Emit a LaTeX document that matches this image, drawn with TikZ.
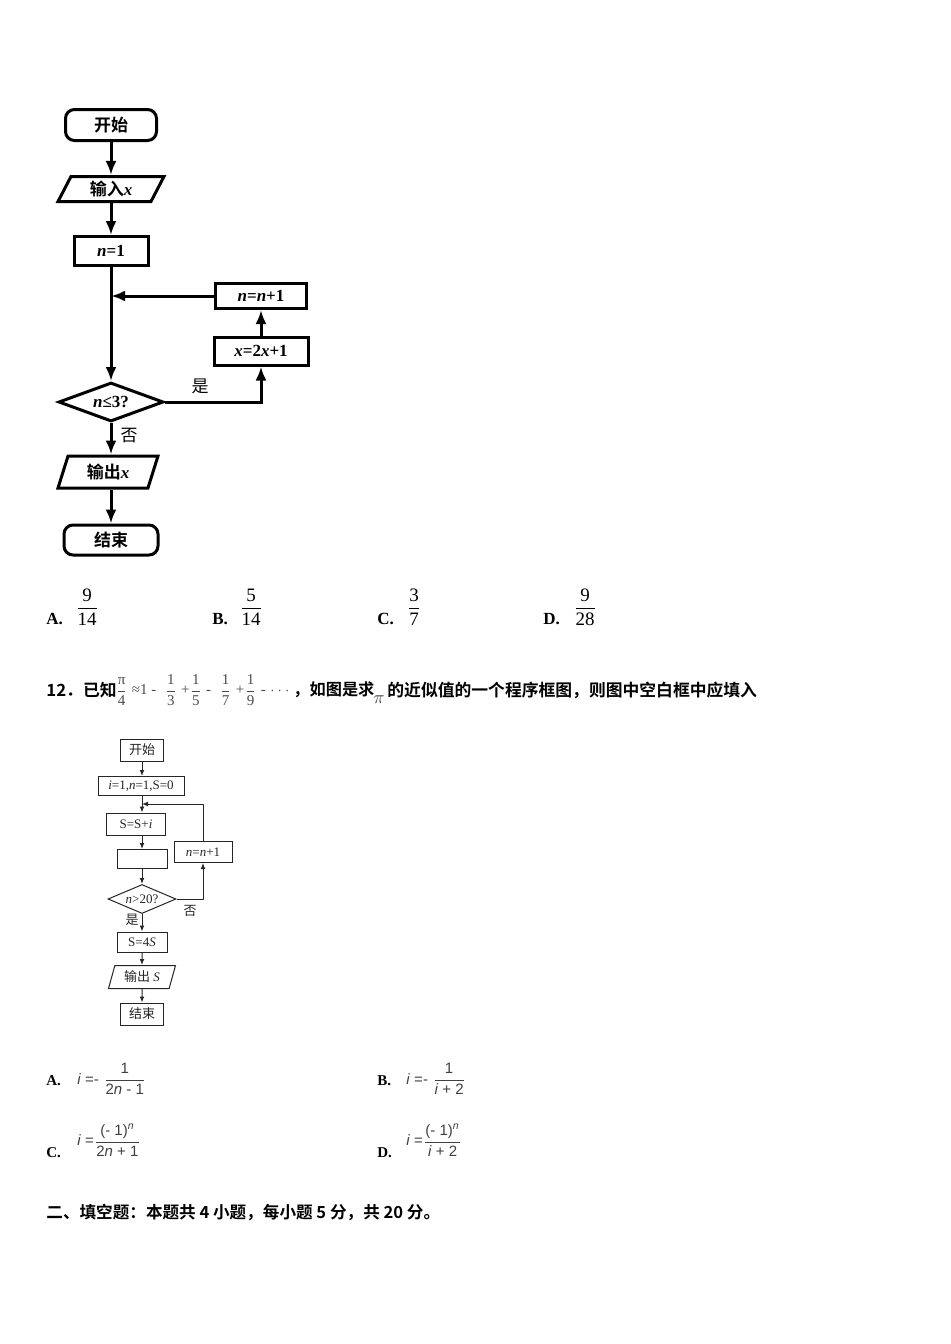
\documentclass[tikz,border=0pt]{standalone}
\usepackage{fontspec}
\setmainfont{Liberation Serif}
\setsansfont{Liberation Sans}
\newfontfamily\cjk{Noto Sans CJK SC}[BoldFont={Noto Sans CJK SC Bold}]
\usetikzlibrary{shapes.geometric,arrows.meta}
\newcommand\zh[1]{{\cjk #1}}
\newcommand\fr[2]{$\displaystyle\frac{\mbox{#1}}{\mbox{#2}}$}
\tikzset{
  big/.style={draw,line width=1.5pt,inner sep=0pt,font=\bfseries\fontsize{8.5}{10}\selectfont},
  bigbox/.style={big,rectangle},
  bigend/.style={big,rounded corners=4.5pt},
  bigflow/.style={line width=1.5pt,-{Latex[length=7pt,width=5.5pt]}},
  small/.style={draw=black!85,line width=0.5pt,inner sep=0pt,text=black!85,font=\fontsize{6.5}{8}\selectfont},
  smallflow/.style={draw=black!85,line width=0.5pt,-{Latex[length=3pt,width=2.4pt]}},
  optlabel/.style={anchor=west,inner sep=0pt,font=\bfseries\fontsize{8.5}{10}\selectfont},
  optfrac/.style={inner sep=0pt,font=\fontsize{9.5}{11}\selectfont},
  qtext/.style={anchor=west,inner sep=0pt,font=\bfseries\fontsize{8.4}{10}\selectfont},
  qmath/.style={anchor=west,inner sep=0pt,text=black!70,font=\fontsize{7.5}{9}\selectfont},
  ansmath/.style={anchor=west,inner sep=0pt,text=black!75,font=\sffamily\fontsize{7.5}{9}\selectfont}
}
\begin{document}
\begin{tikzpicture}[x=0.5pt,y=-0.5pt]
  \useasboundingbox[fill=white] (0,0) rectangle (950,1344);
  % first flowchart
  \path
    (111,125) node[bigend,minimum width=45.5pt,minimum height=15.5pt] (s1) {\zh{开始}}
    (111,189) node[big,trapezium,trapezium stretches body,trapezium left angle=51,trapezium right angle=129,minimum width=53pt,minimum height=12.5pt] (i1) {\zh{输入}\textit{x}}
    (111,251) node[bigbox,minimum width=37pt,minimum height=14.5pt] (n1) {\textit{n}=1}
    (261,296) node[bigbox,minimum width=45.5pt,minimum height=12.5pt] (p1) {\textit{n}=\textit{n}+1}
    (261,351) node[bigbox,minimum width=47pt,minimum height=14pt] (u1) {\textit{x}=2\textit{x}+1}
    (111,402) node[big,diamond,aspect=2.7,minimum width=52.5pt,minimum height=19.5pt] (d1) {\textit{n}≤3?}
    (108,472) node[big,trapezium,trapezium stretches body,trapezium left angle=58,trapezium right angle=122,minimum width=50pt,minimum height=16pt] (o1) {\zh{输出}\textit{x}}
    (111,540) node[bigend,minimum width=47pt,minimum height=15pt] (e1) {\zh{结束}}
    (200,386) node[font=\fontsize{8.5}{10}\selectfont] (yes1) {\zh{是}}
    (129,436) node[font=\fontsize{8.5}{10}\selectfont] (no1) {\zh{否}};
  \coordinate (j1) at (111,296);
  \begin{scope}[bigflow]
    \draw (s1) to (i1);
    \draw (i1) to (n1);
    \draw (n1) to (d1);
    \draw (p1) to (j1);
    \draw (u1) to (p1);
    \draw (d1.east) -| (u1.south);
    \draw (d1.south) to (d1.south |- o1.north);
    \draw (e1.north |- o1.south) to (e1.north);
  \end{scope}
  % answers of question 11
  \path
    (46,619) node[optlabel] (la) {A.}
    (87,607) node[optfrac] (fa) {\fr{9}{14}}
    (212,619) node[optlabel] (lb) {B.}
    (251,607) node[optfrac] (fb) {\fr{5}{14}}
    (377,619) node[optlabel] (lc) {C.}
    (414,607) node[optfrac] (fc) {\fr{3}{7}}
    (543,619) node[optlabel] (ld) {D.}
    (585,607) node[optfrac] (fd) {\fr{9}{28}};
  % question 12
  \path
    (46,690) node[qtext] (q0) {\zh{12．已知}}
    (115,690) node[qmath] (q1) {\fr{π}{4}\;≈1 -\;\;\fr{1}{3}\;+\fr{1}{5}\;-\;\;\fr{1}{7}\;+\fr{1}{9}\;-\;$\cdots$}
    (293,690) node[qtext,font=\bfseries\fontsize{8.1}{10}\selectfont] (q2) {\zh{，如图是求}}
    (379,700) node[inner sep=0pt,text=black!70,font=\fontsize{9.5}{11}\selectfont] (q3) {$\pi$}
    (387,690) node[qtext] (q4) {\zh{的近似值的一个程序框图，则图中空白框中应填入}};
  % second flowchart
  \path
    (142,750) node[small,minimum width=21.5pt,minimum height=11pt] (s2) {\zh{开始}}
    (141,786) node[small,minimum width=43pt,minimum height=9.5pt] (i2) {\textit{i}=1,\textit{n}=1,S=0}
    (136,824) node[small,minimum width=29.5pt,minimum height=11pt] (a2) {S=S+\textit{i}}
    (142,859) node[small,minimum width=25pt,minimum height=9.5pt] (b2) {}
    (203,852) node[small,minimum width=29pt,minimum height=10.5pt] (p2) {\textit{n}=\textit{n}+1}
    (142,899) node[small,diamond,aspect=2.3,minimum width=34pt,minimum height=14.5pt] (d2) {\textit{n}>20?}
    (142,942) node[small,minimum width=25pt,minimum height=10pt] (m2) {S=4\textit{S}}
    (142,977) node[small,trapezium,trapezium stretches body,trapezium left angle=62,trapezium right angle=118,minimum width=33.5pt,minimum height=11.5pt] (o2) {\zh{输出} \textit{S}}
    (142,1014) node[small,minimum width=21.5pt,minimum height=11pt] (e2) {\zh{结束}}
    (190,911) node[text=black!85,font=\fontsize{6.5}{8}\selectfont] (no2) {\zh{否}}
    (132,920) node[text=black!85,font=\fontsize{6.5}{8}\selectfont] (yes2) {\zh{是}};
  \coordinate (j2) at (142,804);
  \begin{scope}[smallflow]
    \draw (s2) to (s2 |- i2.north);
    \draw (j2 |- i2.south) to (j2 |- a2.north);
    \draw (j2 |- a2.south) to (b2);
    \draw (b2) to (d2);
    \draw (d2.east) -| (p2.south);
    \draw (p2.north) |- (j2);
    \draw (d2) to (m2);
    \draw (m2) to (o2);
    \draw (o2) to (e2);
  \end{scope}
  % answers of question 12
  \path
    (46,1081) node[optlabel,font=\bfseries\fontsize{7.5}{9}\selectfont] (ma) {A.}
    (77,1079) node[ansmath] (xa) {\textit{i} =- \fr{1}{2\textit{n} - 1}}
    (377,1081) node[optlabel,font=\bfseries\fontsize{7.5}{9}\selectfont] (mb) {B.}
    (406,1079) node[ansmath] (xb) {\textit{i} =- \fr{1}{\textit{i} + 2}}
    (46,1153) node[optlabel,font=\bfseries\fontsize{7.5}{9}\selectfont] (mc) {C.}
    (77,1140) node[ansmath] (xc) {\textit{i} =\fr{(- 1)\textsuperscript{\textit{n}}}{2\textit{n} + 1}}
    (377,1153) node[optlabel,font=\bfseries\fontsize{7.5}{9}\selectfont] (md) {D.}
    (406,1140) node[ansmath] (xd) {\textit{i} =\fr{(- 1)\textsuperscript{\textit{n}}}{\textit{i} + 2}};
  % next section
  \path (46,1212) node[qtext,font=\bfseries\fontsize{8.3}{10}\selectfont] (h2) {\zh{二、填空题：本题共 4 小题，每小题 5 分，共 20 分。}};
\end{tikzpicture}
\end{document}
